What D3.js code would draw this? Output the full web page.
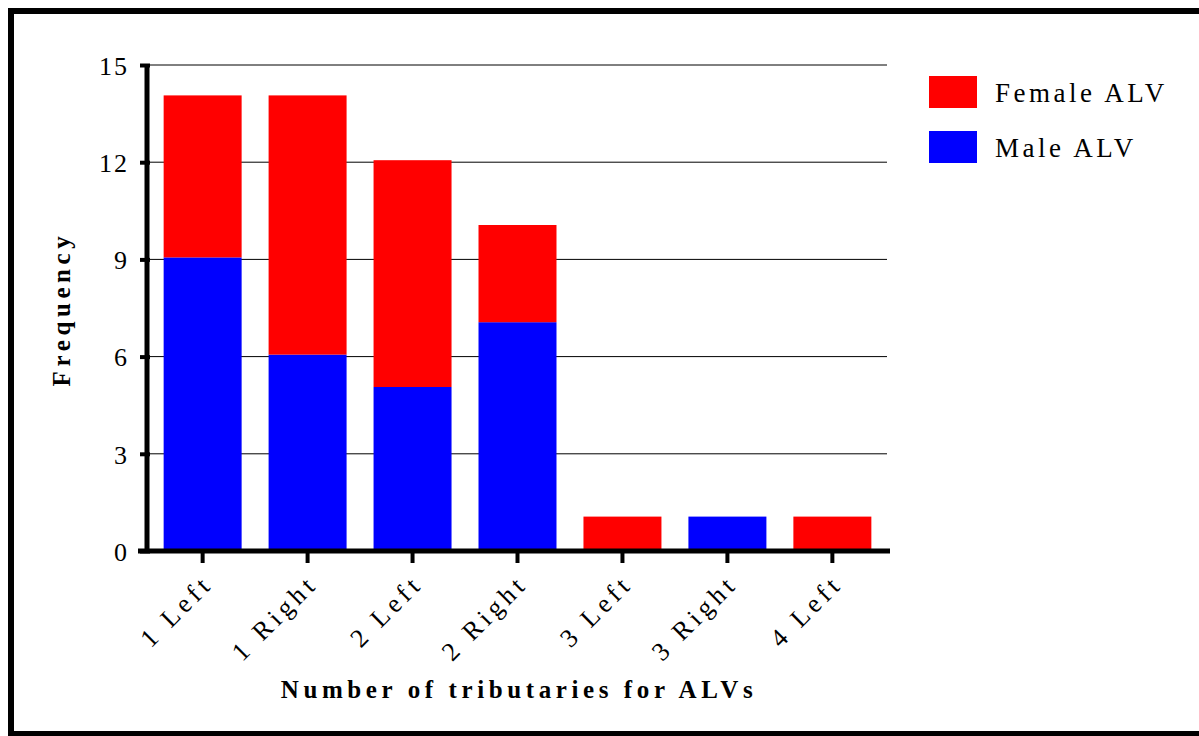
<!DOCTYPE html>
<html>
<head>
<meta charset="utf-8">
<script src="https://cdn.jsdelivr.net/npm/d3@7"></script>
<style>
  body { margin: 0; background: #fff; }
</style>
</head>
<body>
<svg id="chart" width="1199" height="736"></svg>
<script>
// data
var categories = ["1 Left", "1 Right", "2 Left", "2 Right", "3 Left", "3 Right", "4 Left"];
var maleALV = [9, 6, 5, 7, 0, 1, 0];
var femaleALV = [5, 8, 7, 3, 1, 0, 1];
var yTicks = [0, 3, 6, 9, 12, 15];
var seriesNames = ["Female ALV", "Male ALV"];
var seriesColors = ["#ff0000", "#0000ff"];

var serif = "'Liberation Serif', 'Times New Roman', 'DejaVu Serif', serif";

var svg = d3.select("#chart");

// outer frame
svg.append("rect")
  .attr("x", 11).attr("y", 11)
  .attr("width", 1199).attr("height", 723)
  .attr("fill", "none")
  .attr("stroke", "#000")
  .attr("stroke-width", 6);
svg.append("line")
  .attr("x1", 11).attr("x2", 1199)
  .attr("y1", 735).attr("y2", 735)
  .attr("stroke", "#000").attr("stroke-width", 2);

var margin = {top: 65, left: 150};
var width = 735, height = 486;

var g = svg.append("g")
  .attr("transform", "translate(" + margin.left + "," + margin.top + ")");

var x = d3.scaleBand()
  .domain(categories)
  .range([0, width])
  .paddingInner(0.257)
  .paddingOuter(0.13);

var y = d3.scaleLinear()
  .domain([0, 15])
  .range([height, 0]);

// gridlines
g.selectAll(".grid")
  .data(yTicks.filter(function(d) { return d > 0; }))
  .enter().append("line")
  .attr("x1", 0).attr("x2", width + 2)
  .attr("y1", function(d) { return y(d); })
  .attr("y2", function(d) { return y(d); })
  .attr("stroke", "#000")
  .attr("stroke-width", 1);

// stacked bars
var stackData = categories.map(function(c, i) {
  return {cat: c, male: maleALV[i], female: femaleALV[i]};
});

g.selectAll(".male")
  .data(stackData)
  .enter().append("rect")
  .attr("x", function(d) { return x(d.cat); })
  .attr("width", x.bandwidth())
  .attr("y", function(d) { return y(d.male) - 2; })
  .attr("height", function(d) { return y(0) - y(d.male); })
  .attr("fill", seriesColors[1]);

g.selectAll(".female")
  .data(stackData)
  .enter().append("rect")
  .attr("x", function(d) { return x(d.cat); })
  .attr("width", x.bandwidth())
  .attr("y", function(d) { return y(d.male + d.female) - 2; })
  .attr("height", function(d) { return y(d.male) - y(d.male + d.female); })
  .attr("fill", seriesColors[0]);

// y axis
var yAxis = g.append("g")
  .call(d3.axisLeft(y).tickValues(yTicks).tickSize(10).tickPadding(11).tickFormat(function(d) { return d; }));
yAxis.attr("font-family", serif);
yAxis.select(".domain").attr("stroke-width", 5).attr("d", "M-3," + y(15) + "V" + (height + 2));
yAxis.selectAll(".tick line").attr("stroke-width", 4);
yAxis.selectAll(".tick text")
  .style("font-family", serif)
  .style("font-size", "26px")
  .style("letter-spacing", "2px")
  .attr("dy", "0.36em");

// x axis
var xAxis = g.append("g")
  .attr("transform", "translate(0," + height + ")")
  .call(d3.axisBottom(x).tickSize(12).tickPadding(10));
xAxis.attr("font-family", serif);
xAxis.select(".domain").attr("stroke-width", 5).attr("d", "M-12,0H" + (width + 5));
xAxis.selectAll(".tick line").attr("stroke-width", 4);
xAxis.selectAll(".tick text")
  .style("font-family", serif)
  .style("font-size", "26px")
  .style("letter-spacing", "4.5px")
  .attr("text-anchor", "end")
  .attr("x", -16)
  .attr("dy", "18.5")
  .attr("y", 14)
  .attr("transform", "rotate(-45)");

// axis titles
svg.append("text")
  .attr("x", 519).attr("y", 698)
  .attr("text-anchor", "middle")
  .style("font-family", serif)
  .style("font-size", "25px")
  .style("font-weight", "bold")
  .style("letter-spacing", "4.6px")
  .text("Number of tributaries for ALVs");

svg.append("text")
  .attr("transform", "translate(70,309) rotate(-90)")
  .attr("text-anchor", "middle")
  .style("font-family", serif)
  .style("font-size", "25px")
  .style("font-weight", "bold")
  .style("letter-spacing", "4.6px")
  .text("Frequency");

// legend
var legend = svg.append("g").attr("transform", "translate(929,76)");
seriesNames.forEach(function(name, i) {
  legend.append("rect")
    .attr("x", 0).attr("y", i * 55)
    .attr("width", 48).attr("height", 32)
    .attr("fill", seriesColors[i]);
  legend.append("text")
    .attr("x", 66).attr("y", i * 55 + 26)
    .style("font-family", serif)
    .style("font-size", "27px")
    .style("letter-spacing", "3.5px")
    .text(name);
});
</script>
</body>
</html>
